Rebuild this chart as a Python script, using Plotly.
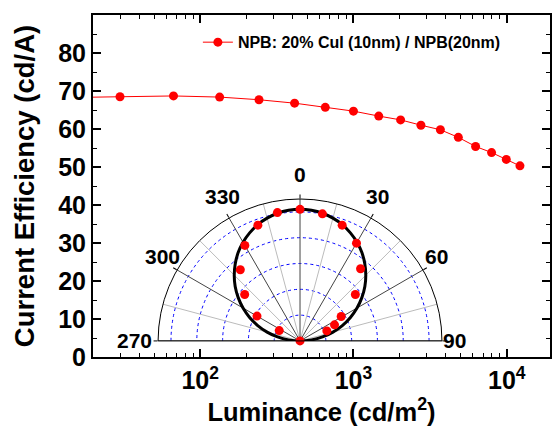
import plotly.graph_objects as go

# ---- main curve data ----
luminance = [15, 30, 67, 134, 242, 413, 655, 1000, 1462, 2030, 2755, 3690, 4830, 6260, 7960, 9930, 12190]
efficiency = [68.3, 68.5, 68.7, 68.4, 67.7, 66.8, 65.7, 64.7, 63.4, 62.4, 61.0, 59.8, 57.8, 55.4, 53.8, 52.0, 50.3]
series_name = "NPB: 20% CuI (10nm) / NPB(20nm)"

# ---- inset angular data (degrees, normalised intensity) ----
meas_theta = [-63.5, -60, -50, -40, -30, -20, -10, 0, 10, 20, 30, 40, 50, 59.3, 65, 69.5, 90]
meas_r = [0.18, 0.385, 0.56, 0.72, 0.855, 0.955, 1.01, 1.02, 1.00, 0.955, 0.875, 0.73, 0.56, 0.371, 0.295, 0.222, 0.0]

# Lambertian reference curve read at 5 degree steps
lamb_theta = [-90, -85, -80, -75, -70, -65, -60, -55, -50, -45, -40, -35, -30, -25, -20, -15, -10, -5,
              0, 5, 10, 15, 20, 25, 30, 35, 40, 45, 50, 55, 60, 65, 70, 75, 80, 85, 90]
lamb_half = [0.0, 0.089, 0.177, 0.264, 0.349, 0.431, 0.51, 0.585, 0.656, 0.721, 0.781, 0.836, 0.883,
             0.924, 0.959, 0.985, 1.005, 1.016]
lamb_r = lamb_half + [1.02] + lamb_half[::-1]

major_spokes = [-90, -60, -30, 0, 30, 60, 90]
minor_spokes = [-75, -45, -15, 15, 45, 75]
polar_ticks = [-90, -60, -30, 0, 30, 60, 90]
polar_labels = ["270", "300", "330", "0", "30", "60", "90"]

x_major = [100, 1000, 10000]
x_labels = ["10<sup>2</sup>", "10<sup>3</sup>", "10<sup>4</sup>"]
x_minor = [20, 30, 40, 50, 60, 70, 80, 90, 200, 300, 400, 500, 600, 700, 800, 900,
           2000, 3000, 4000, 5000, 6000, 7000, 8000, 9000]
y_major = [0, 10, 20, 30, 40, 50, 60, 70, 80]

FONT = "Liberation Sans, Arial, sans-serif"
fig = go.Figure()

fig.add_trace(go.Scatter(
    x=luminance, y=efficiency, mode="lines+markers", name=series_name,
    line=dict(color="#ff0000", width=1),
    marker=dict(color="#ff0000", size=9),
))

for a in minor_spokes:
    fig.add_trace(go.Scatterpolar(r=[0, 1.1], theta=[a, a], mode="lines",
                                  line=dict(color="#bbbbbb", width=1),
                                  showlegend=False, hoverinfo="skip", subplot="polar"))
for a in major_spokes:
    fig.add_trace(go.Scatterpolar(r=[0, 1.1], theta=[a, a], mode="lines",
                                  line=dict(color="#444444", width=1),
                                  showlegend=False, hoverinfo="skip", subplot="polar"))
fig.add_trace(go.Scatterpolar(r=lamb_r, theta=lamb_theta, mode="lines",
                              line=dict(color="black", width=3, shape="spline"),
                              showlegend=False, subplot="polar"))
fig.add_trace(go.Scatterpolar(r=meas_r, theta=meas_theta, mode="markers",
                              marker=dict(color="#ff0000", size=9),
                              showlegend=False, subplot="polar"))

# angular labels of the inset placed as annotations (paper coords)
label_pos = {"270": (0.0919, 0.0497), "300": (0.151, 0.2953), "330": (0.2823, 0.468),
             "0": (0.453, 0.535), "30": (0.6236, 0.468), "60": (0.7527, 0.2953),
             "90": (0.7921, 0.0497)}
annotations = [dict(text=t, x=label_pos[t][0], y=label_pos[t][1], xref="paper", yref="paper",
                    xanchor="center", yanchor="middle", showarrow=False,
                    font=dict(size=21, family=FONT, weight="bold", color="black"))
               for t in polar_labels]

fig.update_layout(
    width=552, height=426,
    margin=dict(l=93, r=2, t=15, b=69),
    paper_bgcolor="white", plot_bgcolor="white",
    font=dict(family=FONT, color="black", weight="bold"),
    showlegend=True,
    annotations=annotations,
    legend=dict(x=0.2295, y=0.970, xanchor="left", yanchor="top",
                bgcolor="rgba(0,0,0,0)", font=dict(size=16, family=FONT, weight="bold")),
    xaxis=dict(
        type="log", range=[1.301, 4.282], tickvals=x_major, ticktext=x_labels,
        automargin=False,
        showline=True, linecolor="black", linewidth=2, mirror="ticks",
        ticks="inside", ticklen=8, tickwidth=1.5, tickcolor="black",
        minor=dict(tickvals=x_minor, ticks="inside", ticklen=4, tickwidth=1, tickcolor="black"),
        showgrid=False, zeroline=False,
        tickfont=dict(size=25, family=FONT, weight="bold"),
        title=dict(text="Luminance (cd/m<sup>2</sup>)", standoff=6,
                   font=dict(size=25.5, family=FONT, weight="bold")),
    ),
    yaxis=dict(
        range=[0, 90], tickvals=y_major, automargin=False,
        showline=True, linecolor="black", linewidth=2, mirror="ticks",
        ticks="inside", ticklen=8, tickwidth=1.5, tickcolor="black",
        minor=dict(dtick=5, ticks="inside", ticklen=4, tickwidth=1, tickcolor="black"),
        showgrid=False, zeroline=False,
        tickfont=dict(size=25, family=FONT, weight="bold"),
        title=dict(text="Current Efficiency (cd/A)", standoff=16,
                   font=dict(size=27.5, family=FONT, weight="bold")),
    ),
    polar=dict(
        domain=dict(x=[0.142, 0.764], y=[0.047, 0.462]),
        sector=[0, 180],
        bgcolor="rgba(0,0,0,0)",
        radialaxis=dict(range=[0, 1.1], tickvals=[0.2, 0.4, 0.6, 0.8, 1.0],
                        showticklabels=False, ticks="", showline=False,
                        gridcolor="#0000ff", griddash="dot", gridwidth=1),
        angularaxis=dict(rotation=90, direction="clockwise",
                         tickvals=polar_ticks, showticklabels=False,
                         showline=True, linecolor="black", linewidth=1,
                         ticks="outside", ticklen=4, tickcolor="black",
                         showgrid=False),
    ),
)

fig.write_html("out.html", config={"displayModeBar": False},
               post_script="document.body.style.margin='0px';")
